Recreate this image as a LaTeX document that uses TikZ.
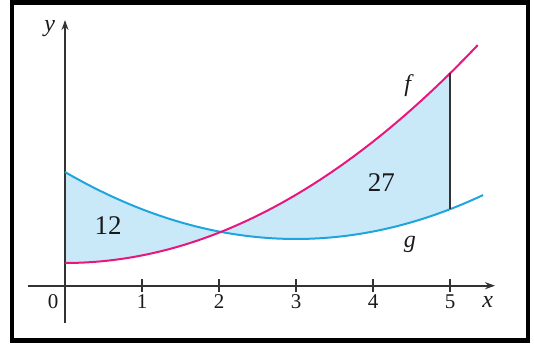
\documentclass[tikz,border=0pt]{standalone}
\usepackage{fontspec}
\setmainfont{Liberation Serif}
\usetikzlibrary{arrows.meta}
\definecolor{fcol}{HTML}{E8177D}
\definecolor{gcol}{HTML}{1EA5E0}
\definecolor{fillcol}{HTML}{C9E9F9}
\definecolor{axcol}{HTML}{333333}
\definecolor{txtcol}{HTML}{1A1A1A}
\tikzset{
  axis/.style={line width=1.8pt, draw=axcol, -{Stealth[length=10pt,width=7pt]}},
  tickmark/.style={line width=1.6pt, draw=axcol},
  ticklab/.style={font=\fontsize{21}{21}\selectfont, text=txtcol, inner sep=0pt},
  arealab/.style={font=\fontsize{27}{27}\selectfont, text=txtcol, inner sep=0pt},
  curvelab/.style={font=\fontsize{24}{24}\selectfont\itshape, text=txtcol, inner sep=0pt},
  fcurve/.style={line width=2pt, draw=fcol},
  gcurve/.style={line width=2pt, draw=gcol}
}
\begin{document}
\begin{tikzpicture}[x=1pt,y=-1pt]
\useasboundingbox (0,0) rectangle (534,343);
\draw[line width=4.5pt, black] (12,2.5) rectangle (528,340.5);
\begin{scope}[shift={(65,285.7)}, x=77pt, y=77pt]
  % fill
  \fill[fillcol] plot[domain=0:5, samples=60] (\x,{0.0966*(\x-3)^2+0.607})
    -- plot[domain=5:0, samples=60] (\x,{0.295+0.0985*\x*\x}) -- cycle;
  % axes
  \coordinate (xs) at (-0.48,0);
  \coordinate (xe) at (5.585,0);
  \coordinate (ys) at (0,-0.485);
  \coordinate (ye) at (0,3.45);
  \draw[axis] (xs) -- (xe);
  \draw[axis] (ys) -- (ye);
  \node[curvelab, anchor=center] (xl) at (5.49,-0.21) {x};
  \node[curvelab, anchor=center] (yl) at (-0.2,3.34) {y};
  \foreach \i in {1,...,5} {
    \draw[tickmark] (\i,-0.085) -- (\i,0.085);
    \node[ticklab] (t\i) at (\i,-0.21) {\i};
  }
  \node[ticklab] (t0) at (-0.155,-0.21) {0};
  % curves
  \draw[gcurve] plot[domain=0:5.43, samples=80] (\x,{0.0966*(\x-3)^2+0.607});
  \draw[fcurve] plot[domain=0:5.36, samples=80] (\x,{0.295+0.0985*\x*\x});
  % vertical line at x=5
  \coordinate (g5) at (5,{0.0966*4+0.607});
  \coordinate (f5) at (5,{0.295+0.0985*25});
  \draw[line width=1.3pt, axcol] (g5) -- (f5);
  % labels
  \node[arealab] (a12) at (0.56,0.775) {12};
  \node[arealab] (a27) at (4.11,1.335) {27};
  \node[curvelab] (fl) at (4.45,2.6) {f};
  \node[curvelab] (gl) at (4.48,0.54) {g};
\end{scope}
\end{tikzpicture}
\end{document}
